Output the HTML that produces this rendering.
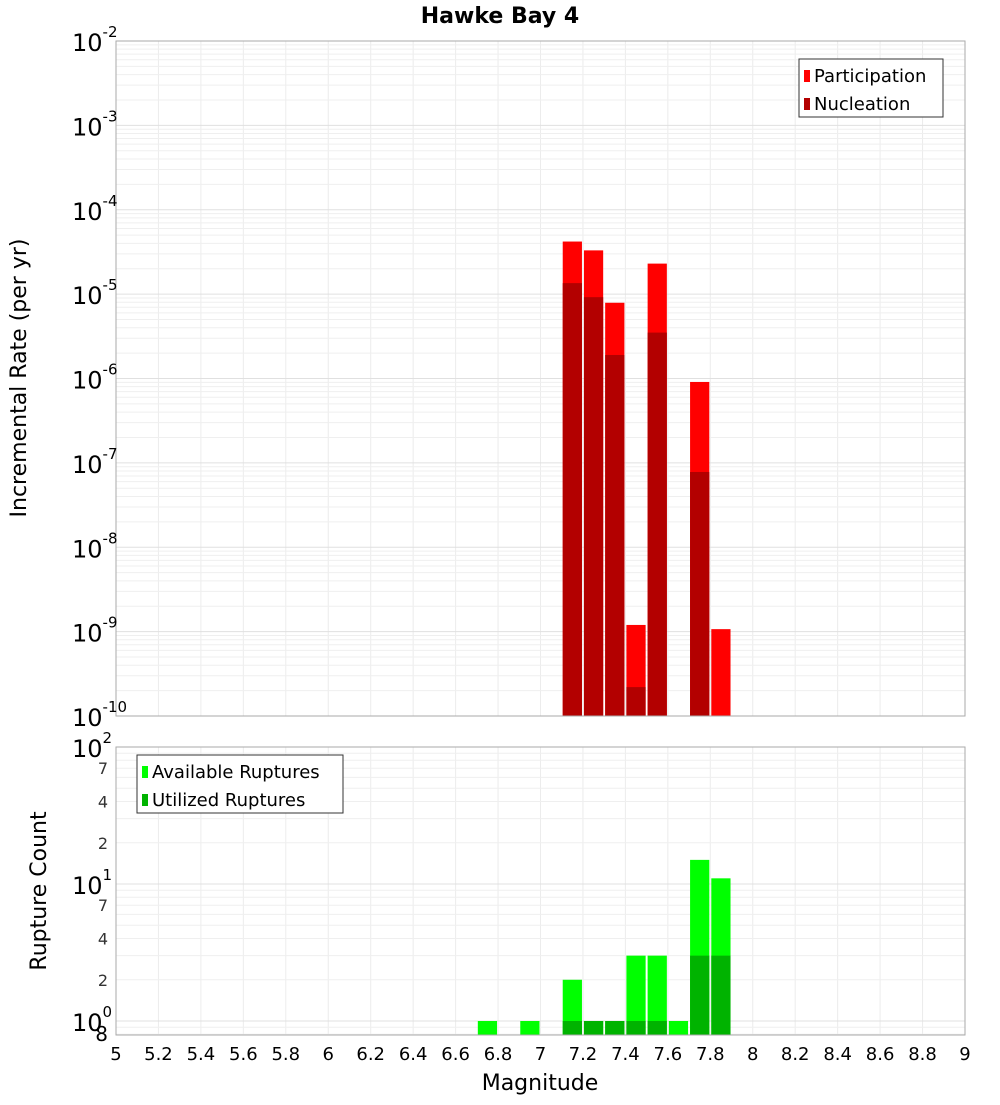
<!DOCTYPE html>
<html><head><meta charset="utf-8"><style>
body{margin:0;background:#fff;}
svg text{font-family:"DejaVu Sans","Liberation Sans",sans-serif;}
</style></head><body>
<svg id="c" width="1000" height="1100" xmlns="http://www.w3.org/2000/svg"></svg>
<script>
const bins=[6.75,6.85,6.95,7.05,7.15,7.25,7.35,7.45,7.55,7.65,7.75,7.85];
const participation=[0,0,0,0,4.2e-5,3.3e-5,7.9e-6,1.2e-9,2.3e-5,0,9.1e-7,1.07e-9];
const nucleation=[0,0,0,0,1.35e-5,9.2e-6,1.9e-6,2.2e-10,3.5e-6,0,7.8e-8,0];
const available=[1,0,1,0,2,1,1,3,3,1,15,11];
const utilized=[0,0,0,0,1,1,1,1,1,0,3,3];
const xTicks=[5,5.2,5.4,5.6,5.8,6,6.2,6.4,6.6,6.8,7,7.2,7.4,7.6,7.8,8,8.2,8.4,8.6,8.8,9];
const topExp=[-10,-9,-8,-7,-6,-5,-4,-3,-2];
const botMinorLabels=[2,4,7,20,40,70];

const NS="http://www.w3.org/2000/svg";
const svg=document.getElementById('c');
function el(t,a,parent){const e=document.createElementNS(NS,t);for(const k in a)e.setAttribute(k,a[k]);(parent||svg).appendChild(e);return e;}
const L=116,R=965;
const X=v=>L+(v-5)*(R-L)/4;
const T0=41,T1=716; const YT=v=>T1-(Math.log10(v)+10)*(T1-T0)/8;
const B0=747,B1=1035; const BD=137; const YB=v=>(B0+2*BD)-Math.log10(v)*BD;

function grid(y0,y1,yf,lo,hi){
  for(const t of xTicks){const g=el('line',{x1:X(t),x2:X(t),y1:y0,y2:y1,stroke:'#ececec'});}
  for(let e=lo;e<hi;e++)for(let m=1;m<10;m++){const v=m*Math.pow(10,e);const y=yf(v);if(y<y0-0.5||y>y1+0.5)continue;
    const g=el('line',{x1:L,x2:R,y1:y,y2:y,stroke:m==1?'#e0e0e0':'#efefef'});}
}
grid(T0,T1,YT,-10,-2);
grid(B0,B1,YB,-1,2);

// top bars
bins.forEach((b,i)=>{
  const x=X(b-0.05)+1,w=X(b+0.05)-X(b-0.05)-2;
  if(participation[i]>0){const y=Math.max(T0,YT(participation[i]));const r=el('rect',{x:x,y:y,width:w,height:T1-y,fill:'#ff0000'});}
  if(nucleation[i]>0){const y=Math.max(T0,YT(nucleation[i]));const r=el('rect',{x:x,y:y,width:w,height:T1-y,fill:'#b30000'});}
  if(available[i]>0){const y=YB(available[i]);const r=el('rect',{x:x,y:y,width:w,height:B1-y,fill:'#00ff00'});}
  if(utilized[i]>0){const y=YB(utilized[i]);const r=el('rect',{x:x,y:y,width:w,height:B1-y,fill:'#00b300'});}
});
el('rect',{x:L,y:T0,width:R-L,height:T1-T0,fill:'none',stroke:'#aaa'});
el('rect',{x:L,y:B0,width:R-L,height:B1-B0,fill:'none',stroke:'#aaa'});

// top y labels
topExp.forEach(e=>{const y=YT(Math.pow(10,e));const t=el('text',{x:72,y:y+10,'font-size':24,fill:'#000'});t.innerHTML='10<tspan font-size="15" dy="-14">'+e+'</tspan>';});
[0,1,2].forEach(e=>{const y=YB(Math.pow(10,e));const t=el('text',{x:72,y:y+10,'font-size':24,fill:'#000'});t.innerHTML='10<tspan font-size="15" dy="-14">'+e+'</tspan>';});
botMinorLabels.forEach(v=>{const y=YB(v);const t=el('text',{x:108,y:y+6,'font-size':16,fill:'#333','text-anchor':'end'});t.textContent=String(v).charAt(0);});
{const t=el('text',{x:108,y:1041,'font-size':20,fill:'#000','text-anchor':'end'});t.textContent='8';}
xTicks.forEach(v=>{const t=el('text',{x:X(v),y:1060,'font-size':18,fill:'#000','text-anchor':'middle'});t.textContent=String(v);});

function txt(s,a,name){const t=el('text',a);t.textContent=s;return t;}
txt('Hawke Bay 4',{x:500,y:23,'font-size':22,'font-weight':'bold','text-anchor':'middle'},'chart-title');
txt('Magnitude',{x:540,y:1090,'font-size':22,'text-anchor':'middle'},'x-axis-title');
txt('Incremental Rate (per yr)',{x:26,y:378,'font-size':22,'text-anchor':'middle',transform:'rotate(-90 26 378)'},'y-axis-title-top');
txt('Rupture Count',{x:46,y:891,'font-size':22,'text-anchor':'middle',transform:'rotate(-90 46 891)'},'y-axis-title-bottom');

// legends
function legend(x,y,w,items,name){const g=el('g',{});
  el('rect',{x:x,y:y,width:w,height:58,fill:'#fff',stroke:'#333'},g);
  items.forEach((it,i)=>{el('rect',{x:x+5,y:y+11+i*28,width:6,height:12,fill:it[1]},g);const t=el('text',{x:x+15,y:y+23+i*28,'font-size':18},g);t.textContent=it[0];});}
legend(799,59,144,[['Participation','#ff0000'],['Nucleation','#b30000']],'top-legend');
legend(137,755,206,[['Available Ruptures','#00ff00'],['Utilized Ruptures','#00b300']],'bottom-legend');
</script>
</body></html>
